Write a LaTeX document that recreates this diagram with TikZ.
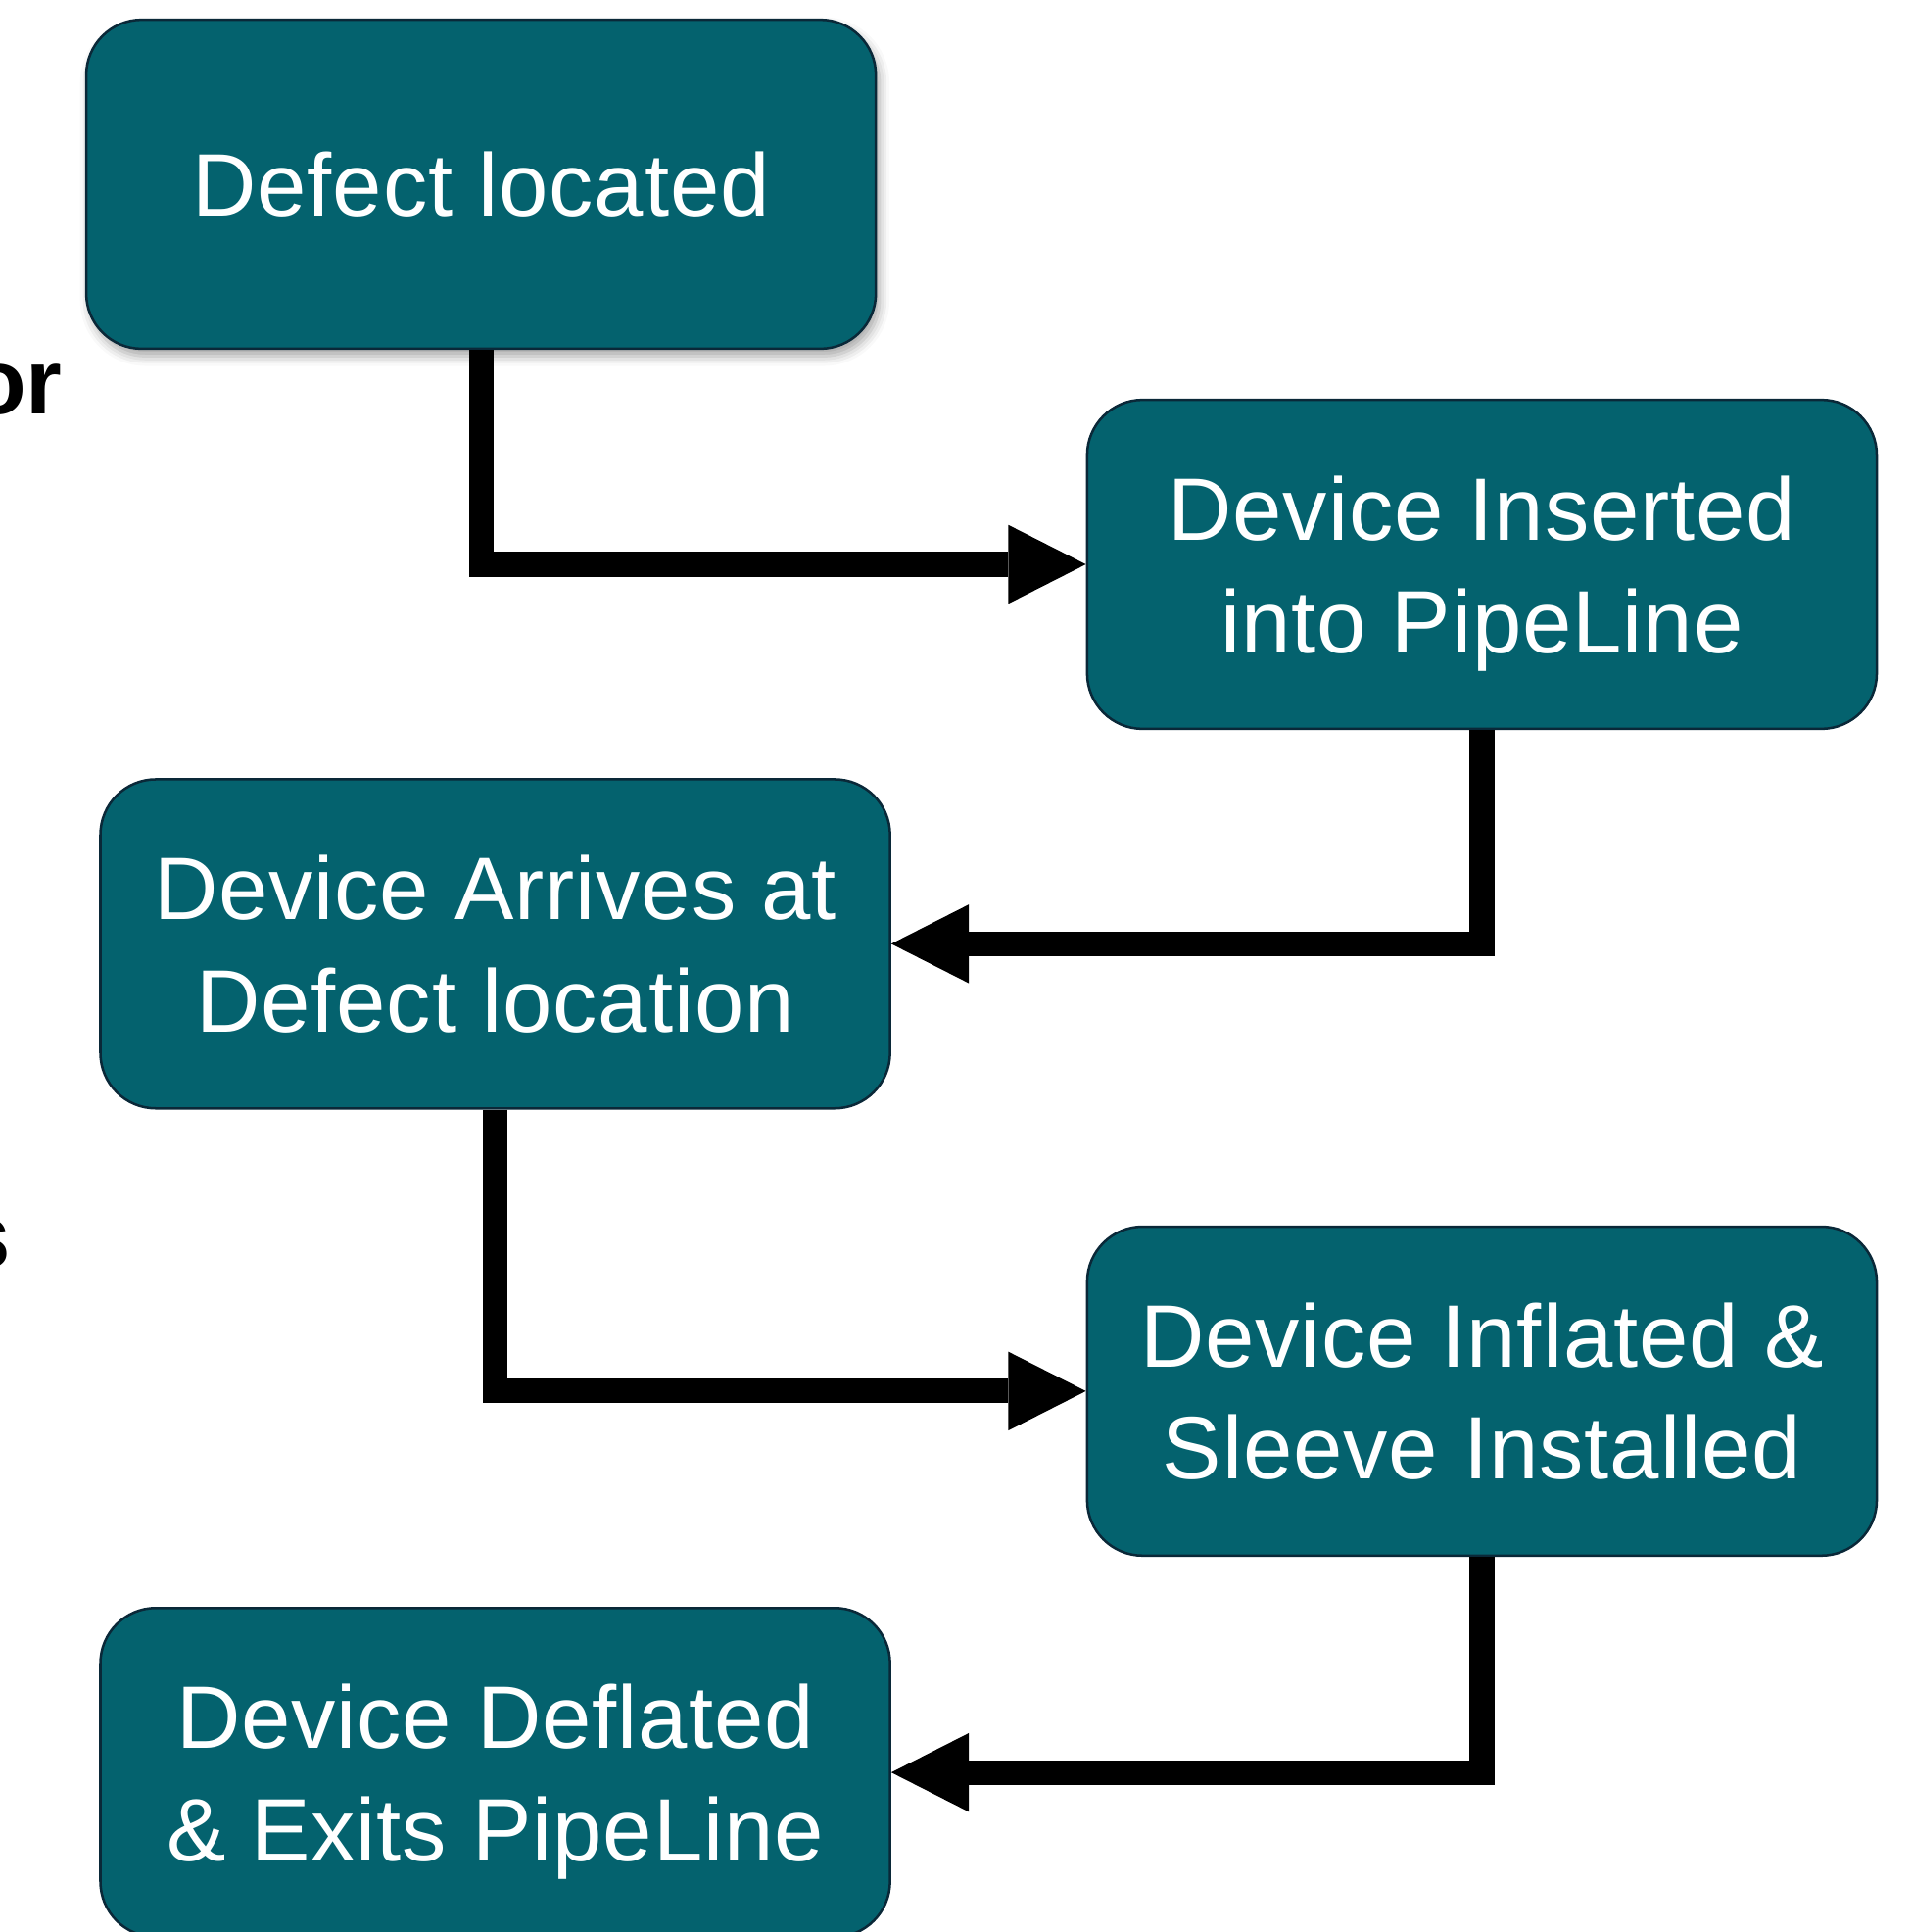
\documentclass[tikz,border=0pt]{standalone}
\usepackage{fontspec}
\setmainfont{Liberation Sans}[LetterSpace=1]
\newfontfamily\sidefont{Liberation Sans}[BoldFont={Liberation Sans Bold}]
\usetikzlibrary{arrows.meta,shadows.blur}

\definecolor{boxteal}{RGB}{4,98,110}
\definecolor{boxedge}{RGB}{10,40,56}

% last line of a box: ignore descenders so every box centres alike
\newcommand\lastline[1]{\raisebox{0pt}[\height][0pt]{#1}}

\begin{document}
\begin{tikzpicture}[x=0.5pt,y=-0.5pt,
  stepbox/.style={draw=boxedge, line width=1pt, fill=boxteal,
    rounded corners=22.5pt, minimum width=320.5pt, minimum height=133.5pt,
    text=white, align=center, inner sep=0pt,
    font=\fontsize{36}{45.5}\selectfont},
  conn/.style={line width=10pt, black,
    -{Triangle[length=31.5pt,width=32pt,line width=0pt]}},
  sidetext/.style={anchor=base east, inner sep=0pt,
    font=\sidefont\bfseries\fontsize{37.5}{45}\selectfont}]

\useasboundingbox (0,0) rectangle (1552,1568);
\clip (0,0) rectangle (1552,1568);

% fragments of the text block on the left
\node[sidetext] (sideA) at (51,336) {or};
\node[sidetext] (sideB) at (9,1029) {s};

% process steps
\node[stepbox, blur shadow={shadow xshift=1.5pt, shadow yshift=-3pt,
      shadow blur radius=4pt, shadow opacity=35}]
  (n1) at (390.5,149.5) {Defect located};
\node[stepbox] (n2) at (1203,458) {Device Inserted\\\lastline{into PipeLine}};
\node[stepbox] (n3) at (402,766) {Device Arrives at\\\lastline{Defect location}};
\node[stepbox] (n4) at (1203,1129) {Device Inflated \&\\\lastline{Sleeve Installed}};
\node[stepbox] (n5) at (402,1438.5) {Device Deflated\\\lastline{\& Exits PipeLine}};

% elbow connectors
\draw[conn] (n1.south) |- (n2.west);
\draw[conn] (n2.south) |- (n3.east);
\draw[conn] (n3.south) |- (n4.west);
\draw[conn] (n4.south) |- (n5.east);
\end{tikzpicture}
\end{document}
